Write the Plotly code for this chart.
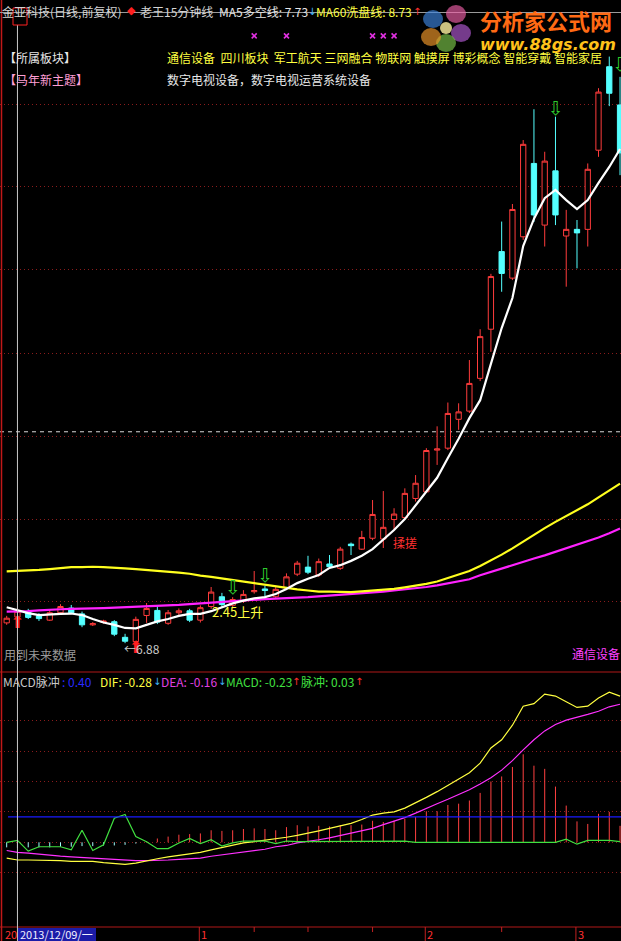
import plotly.graph_objects as go

# ---------------- data ----------------
idx = list(range(58))
opens = [7.40, 7.55, 7.69, 7.58, 7.47, 7.66, 7.78, 7.63, 7.35, 7.41,
         7.43, 7.03, 6.92, 7.59, 7.72, 7.39, 7.66, 7.71, 7.47, 7.82,
         8.07, 7.85, 7.96, 8.20, 8.27, 8.07, 8.29, 8.65, 8.83, 8.63,
         8.91, 8.80, 9.42, 9.29, 9.57, 9.55, 10.05, 10.10, 10.59, 10.76,
         11.83, 11.88, 12.62, 12.83, 13.67, 14.93, 16.92, 16.24, 17.30, 19.18,
         17.60, 18.99, 17.32, 17.49, 17.49, 19.52, 21.66, 20.68]
highs = [7.58, 7.78, 7.76, 7.65, 7.73, 7.88, 7.86, 7.69, 7.42, 7.48,
         7.47, 7.12, 7.56, 7.91, 7.83, 7.73, 7.77, 7.76, 7.85, 8.32,
         8.17, 8.06, 8.24, 8.73, 8.35, 8.35, 8.67, 8.99, 9.12, 9.05,
         9.14, 9.35, 9.46, 9.76, 10.55, 10.78, 10.34, 10.85, 11.19, 11.88,
         12.44, 13.05, 13.03, 14.14, 14.93, 16.35, 17.69, 18.14, 19.78, 20.57,
         19.48, 20.38, 17.99, 17.73, 19.18, 21.11, 21.92, 21.40]
lows = [7.35, 7.50, 7.50, 7.45, 7.45, 7.65, 7.63, 7.29, 7.32, 7.38,
        7.06, 6.88, 6.90, 7.40, 7.37, 7.35, 7.60, 7.42, 7.41, 7.76,
        7.81, 7.81, 7.91, 8.15, 8.07, 8.04, 8.24, 8.60, 8.65, 8.58,
        8.80, 8.76, 9.14, 9.27, 9.52, 9.32, 9.78, 10.06, 10.51, 10.73,
        11.45, 11.83, 12.35, 12.78, 13.60, 14.35, 15.89, 16.19, 17.22, 17.68,
        17.05, 17.60, 16.02, 16.49, 17.05, 19.35, 20.65, 18.88]
closes = [7.52, 7.70, 7.54, 7.51, 7.66, 7.82, 7.66, 7.35, 7.38, 7.45,
          7.11, 6.93, 7.49, 7.77, 7.42, 7.66, 7.71, 7.47, 7.79, 8.19,
          7.87, 8.00, 8.13, 8.23, 8.23, 8.26, 8.58, 8.93, 8.70, 8.97,
          8.84, 9.29, 9.38, 9.59, 10.18, 9.85, 10.19, 10.72, 10.98, 11.82,
          11.86, 12.77, 12.81, 13.54, 14.74, 16.28, 16.36, 18.00, 19.67, 17.86,
          19.24, 17.86, 17.49, 17.40, 19.03, 21.01, 20.98, 19.45]
ma5 = [7.80, 7.73, 7.65, 7.60, 7.62, 7.63, 7.64, 7.60, 7.50, 7.41,
       7.35, 7.27, 7.26, 7.36, 7.44, 7.50, 7.58, 7.63, 7.63, 7.70,
       7.81, 7.90, 7.97, 8.03, 8.06, 8.14, 8.27, 8.42, 8.53, 8.63,
       8.81, 8.88, 8.99, 9.12, 9.29, 9.53, 9.78, 10.06, 10.42, 10.78,
       11.12, 11.63, 12.12, 12.65, 13.11, 14.04, 14.96, 15.73, 17.06, 17.76,
       18.29, 18.50, 18.24, 18.01, 18.24, 18.68, 19.09, 19.55]
ma60 = [8.72, 8.73, 8.74, 8.76, 8.78, 8.81, 8.83, 8.83, 8.84, 8.83,
        8.82, 8.80, 8.78, 8.76, 8.74, 8.72, 8.69, 8.66, 8.61, 8.58,
        8.54, 8.49, 8.45, 8.41, 8.37, 8.33, 8.29, 8.26, 8.23, 8.20,
        8.20, 8.19, 8.19, 8.21, 8.23, 8.25, 8.27, 8.31, 8.35, 8.40,
        8.46, 8.55, 8.64, 8.73, 8.86, 9.00, 9.15, 9.31, 9.49, 9.65,
        9.83, 9.99, 10.14, 10.29, 10.44, 10.62, 10.79, 10.97]
ma_long = [7.69, 7.69, 7.70, 7.72, 7.74, 7.75, 7.76, 7.76, 7.77, 7.78,
           7.79, 7.81, 7.82, 7.83, 7.83, 7.84, 7.86, 7.88, 7.90, 7.92,
           7.94, 7.96, 7.98, 7.99, 8.01, 8.02, 8.04, 8.05, 8.06, 8.08,
           8.09, 8.12, 8.13, 8.15, 8.18, 8.20, 8.23, 8.26, 8.28, 8.32,
           8.36, 8.41, 8.46, 8.52, 8.62, 8.71, 8.80, 8.88, 8.96, 9.05,
           9.13, 9.22, 9.30, 9.40, 9.49, 9.59, 9.70, 9.82]

dif = [-0.25, -0.28, -0.28, -0.28, -0.29, -0.29, -0.30, -0.30, -0.30, -0.32,
       -0.33, -0.35, -0.33, -0.29, -0.26, -0.23, -0.21, -0.19, -0.16, -0.12,
       -0.08, -0.04, -0.01, 0.01, 0.03, 0.05, 0.08, 0.11, 0.14, 0.18,
       0.22, 0.26, 0.30, 0.36, 0.43, 0.46, 0.48, 0.54, 0.62, 0.71,
       0.80, 0.90, 0.99, 1.10, 1.25, 1.49, 1.62, 1.85, 2.15, 2.19,
       2.34, 2.31, 2.22, 2.13, 2.15, 2.28, 2.37, 2.31]
dea = [-0.13, -0.16, -0.17, -0.19, -0.20, -0.22, -0.23, -0.24, -0.26, -0.27,
       -0.28, -0.29, -0.29, -0.29, -0.29, -0.28, -0.27, -0.26, -0.25, -0.22,
       -0.20, -0.18, -0.15, -0.13, -0.11, -0.07, -0.05, -0.01, 0.01, 0.04,
       0.07, 0.11, 0.15, 0.18, 0.22, 0.28, 0.33, 0.39, 0.46, 0.54,
       0.61, 0.68, 0.75, 0.83, 0.92, 1.02, 1.14, 1.29, 1.46, 1.62,
       1.76, 1.86, 1.93, 1.97, 2.02, 2.07, 2.14, 2.18]
macd_bar = [-0.08, -0.09, -0.08, -0.08, -0.08, -0.07, -0.07, -0.06, -0.06, -0.05,
            -0.05, -0.04, -0.02, 0.02, 0.06, 0.09, 0.12, 0.13, 0.14, 0.19,
            0.18, 0.19, 0.21, 0.22, 0.21, 0.19, 0.24, 0.27, 0.25, 0.26,
            0.25, 0.27, 0.27, 0.28, 0.34, 0.32, 0.34, 0.37, 0.40, 0.49,
            0.49, 0.59, 0.61, 0.66, 0.78, 0.96, 1.04, 1.19, 1.39, 1.21,
            1.16, 0.88, 0.58, 0.33, 0.29, 0.45, 0.48, 0.26]
pulse = [0.00, 0.03, -0.14, -0.07, -0.07, -0.07, -0.12, 0.19, -0.13, -0.04,
         0.38, 0.44, 0.09, 0.01, -0.10, -0.10, -0.01, 0.06, -0.02, 0.04,
         -0.06, -0.01, 0.02, 0.02, 0.02, -0.02, 0.02, 0.01, 0.01, 0.01,
         0.01, 0.01, 0.01, 0.01, 0.01, 0.01, 0.02, 0.02, 0.00, 0.00,
         0.00, 0.00, 0.00, 0.00, 0.00, 0.00, 0.00, 0.00, 0.00, 0.00,
         0.00, 0.00, 0.05, -0.03, 0.03, 0.03, 0.03, 0.01]
pulse_level = 0.40
ref_price = 12.30

buy_idx = [1, 12]
buy_price = [7.37, 6.74]
sell_idx = [21, 24, 51, 57]
sell_price = [8.27, 8.56, 20.55, 21.66]
cross_idx = [23, 26, 34, 35, 36]
cross_price = [22.45] * len(cross_idx)
low_idx, low_value = 11, 6.88
rise_idx, rise_price, rise_label = 19, 7.70, "2.45上升"
rub_idx, rub_price, rub_label = 37, 9.45, "揉搓"

price_grid = [7.94, 10.06, 12.17, 14.31, 16.45, 18.58, 20.70]
macd_grid = [-0.48, 0.0, 0.48, 0.96, 1.44, 1.92]
month_idx = [18, 39, 53]
month_labels = ["1", "2", "3"]
minor_idx = [23, 28, 34, 46]

# ---------------- layout helpers ----------------
W, H = 621, 941
RED = "#ff3c3c"
CYAN = "#54ffff"
CJK = "Noto Sans CJK SC, sans-serif"
XR = [-0.623, 57.09]
Y1R = [6.192, 23.371]
Y2R = [-1.338, 2.690]


def PX(px):
    return px / W


def PY(py):
    return 1 - py / H


fig = go.Figure()

# candles
fig.add_trace(go.Candlestick(
    x=idx, open=opens, high=highs, low=lows, close=closes,
    increasing=dict(line=dict(color=RED, width=1), fillcolor="#000000"),
    decreasing=dict(line=dict(color=CYAN, width=1), fillcolor=CYAN),
    whiskerwidth=0, hoverinfo="skip", xaxis="x", yaxis="y"))

fig.add_trace(go.Scatter(x=idx, y=ma_long, mode="lines",
                         line=dict(color="#ff22ff", width=2.2), yaxis="y"))
fig.add_trace(go.Scatter(x=idx, y=ma60, mode="lines",
                         line=dict(color="#ffff1e", width=2.2), yaxis="y"))
fig.add_trace(go.Scatter(x=idx, y=ma5, mode="lines",
                         line=dict(color="#ffffff", width=2.2), yaxis="y"))

# signal markers
fig.add_trace(go.Scatter(x=sell_idx, y=sell_price, mode="text",
                         text=["⇩"] * len(sell_idx), textposition="middle center",
                         textfont=dict(color="#2ecc2e", size=19, family="DejaVu Sans"),
                         yaxis="y"))
fig.add_trace(go.Scatter(x=buy_idx, y=buy_price, mode="text",
                         text=["⬆"] * len(buy_idx), textposition="middle center",
                         textfont=dict(color="#ff1e1e", size=17, family="DejaVu Sans"),
                         yaxis="y"))
fig.add_trace(go.Scatter(x=cross_idx, y=cross_price, mode="markers",
                         marker=dict(symbol="x-thin", size=5,
                                     line=dict(color="#e030e0", width=1.6)),
                         yaxis="y"))

# MACD pane
bxp, byp, bxn, byn = [], [], [], []
for i, v in zip(idx, macd_bar):
    if v >= 0:
        bxp += [i, i, None]
        byp += [0, v, None]
    else:
        bxn += [i, i, None]
        byn += [0, v, None]
fig.add_trace(go.Scatter(x=bxp, y=byp, mode="lines",
                         line=dict(color="#ff4040", width=1), yaxis="y2"))
fig.add_trace(go.Scatter(x=bxn, y=byn, mode="lines",
                         line=dict(color="#a0ffff", width=1), yaxis="y2"))
fig.add_trace(go.Scatter(x=idx, y=dea, mode="lines",
                         line=dict(color="#ff30ff", width=1.2), yaxis="y2"))
fig.add_trace(go.Scatter(x=idx, y=dif, mode="lines",
                         line=dict(color="#ffff40", width=1.2), yaxis="y2"))
fig.add_trace(go.Scatter(x=idx, y=pulse, mode="lines",
                         line=dict(color="#40e040", width=1.2), yaxis="y2"))

# ---------------- shapes ----------------
shapes = []
shapes.append(dict(type="line", xref="paper", yref="y", x0=0, x1=1,
                   y0=ref_price, y1=ref_price, layer="below",
                   line=dict(color="#d8d8d8", width=1, dash="4px,4px")))
shapes.append(dict(type="line", xref="paper", yref="y2", x0=PX(8), x1=1,
                   y0=pulse_level, y1=pulse_level,
                   line=dict(color="#1a1aff", width=1.2)))
# pane separators / borders
shapes.append(dict(type="line", xref="paper", yref="paper", x0=0, x1=1,
                   y0=PY(672), y1=PY(672), line=dict(color="#b01818", width=1.2)))
shapes.append(dict(type="line", xref="paper", yref="paper", x0=0, x1=1,
                   y0=PY(927), y1=PY(927), line=dict(color="#b01818", width=1.2)))
shapes.append(dict(type="line", xref="paper", yref="paper", x0=PX(1.5), x1=PX(1.5),
                   y0=0, y1=1, line=dict(color="#c01818", width=1.5)))
shapes.append(dict(type="line", xref="paper", yref="paper", x0=0, x1=1,
                   y0=PY(12.5), y1=PY(12.5), line=dict(color="#9a9a9a", width=1)))
# cursor
shapes.append(dict(type="line", xref="x", yref="paper", x0=1, x1=1,
                   y0=0, y1=PY(25), line=dict(color="#c8c8c8", width=1)))
shapes.append(dict(type="rect", xref="paper", yref="paper", x0=PX(13), x1=PX(27),
                   y0=PY(25), y1=PY(8), line=dict(color="#ff2020", width=1)))
# bottom axis ticks
for m in month_idx:
    shapes.append(dict(type="line", xref="x", yref="paper", x0=m - 0.1, x1=m - 0.1,
                       y0=0, y1=PY(927), line=dict(color="#c02020", width=1)))
for m in minor_idx:
    shapes.append(dict(type="line", xref="x", yref="paper", x0=m, x1=m,
                       y0=PY(932), y1=PY(927), line=dict(color="#c02020", width=1)))
# date box
shapes.append(dict(type="rect", xref="paper", yref="paper", x0=PX(18), x1=PX(96),
                   y0=0, y1=PY(928), fillcolor="#1c1ca8", line=dict(width=0)))
# watermark flower
petals = [((433, 19), "#3d86e0"), ((456, 14), "#ee5fa8"), ((461, 33), "#b45ad6"),
          ((446, 43), "#7cc84a"), ((431, 37), "#f59a2a")]
for (cx, cy), col in petals:
    shapes.append(dict(type="circle", xref="paper", yref="paper",
                       x0=PX(cx - 10), x1=PX(cx + 10), y0=PY(cy + 9), y1=PY(cy - 9),
                       fillcolor=col, opacity=0.65, line=dict(width=0)))
shapes.append(dict(type="circle", xref="paper", yref="paper",
                   x0=PX(440), x1=PX(452), y0=PY(34), y1=PY(22),
                   fillcolor="#fff2a0", opacity=0.8, line=dict(width=0)))

# ---------------- annotations ----------------
ann = []


def T(px, py, text, color, size=12, anchor="left", family=CJK, **kw):
    f = dict(color=color, size=size, family=family)
    f.update(kw.pop("font_extra", {}))
    ann.append(dict(x=PX(px), y=PY(py), xref="paper", yref="paper", text=text,
                    showarrow=False, xanchor=anchor, yanchor="middle",
                    font=f, borderpad=0, **kw))


# header
T(1, 11.5, "金亚科技(日线,前复权)", "#d4d4d4")
T(126, 10, "◆", "#ff2020", size=11, family="DejaVu Sans")
T(139, 11.5, "老王15分钟线", "#d4d4d4")
T(218, 11.5, "MA5多空线: 7.73", "#e6e6e6")
T(307, 11.5, "↓", "#40b8ff", size=10, family="DejaVu Sans")
T(315, 11.5, "MA60洗盘线: 8.73", "#ffff40")
T(412, 11.5, "↑", "#ff3030", size=10, family="DejaVu Sans")
# watermark text
T(479, 20, "分析家公式网", "#ff6a14", size=22, font_extra=dict(weight="bold"))
T(479, 44, "www.88gs.com", "#ffc21a", size=16, family="DejaVu Sans",
  font_extra=dict(weight="bold", style="italic"))
# info rows
T(3, 57, "【所属板块】", "#e8e8e8")
T(166, 57, "通信设备  四川板块  军工航天 三网融合 物联网 触摸屏 博彩概念 智能穿戴 智能家居",
  "#ffff40")
T(3, 79, "【马年新主题】", "#ff9fd6")
T(166, 79, "数字电视设备，数字电视运营系统设备", "#e8e8e8")
# lower main pane labels
T(3, 654, "用到未来数据", "#9a9a9a")
T(621, 653, "通信设备", "#ff40ff", anchor="right")
# MACD header
T(2, 681, "MACD脉冲", "#c8c8c8")
T(61, 681, ": 0.40", "#2a2aff")
T(99, 681, "DIF: -0.28", "#ffff40")
T(152, 681, "↓", "#40b8ff", size=10, family="DejaVu Sans")
T(160, 681, "DEA: -0.16", "#e040e0")
T(217, 681, "↓", "#40b8ff", size=10, family="DejaVu Sans")
T(225, 681, "MACD: -0.23", "#40e040")
T(291, 681, "↑", "#ff3030", size=10, family="DejaVu Sans")
T(300, 681, "脉冲: 0.03", "#40e040")
T(354, 681, "↑", "#ff3030", size=10, family="DejaVu Sans")
# bottom axis
T(4, 934, "20", "#ff3030", size=11)
T(19, 934, "2013/12/09/一", "#f0f0ff", size=11)
for m, lab in zip(month_idx, month_labels):
    ann.append(dict(x=m, y=PY(934), xref="x", yref="paper", text=lab,
                    showarrow=False, xanchor="left", yanchor="middle", borderpad=0,
                    font=dict(color="#ff3030", size=11, family=CJK)))

# data-anchored labels
ann.append(dict(x=low_idx - 0.2, y=low_value - 0.13, xref="x", yref="y",
                text="←" + f"{low_value:.2f}", showarrow=False, xanchor="left",
                yanchor="middle", borderpad=0,
                font=dict(color="#c8c8c8", size=12, family=CJK)))
ann.append(dict(x=rise_idx, y=rise_price, xref="x", yref="y", text=rise_label,
                showarrow=False, xanchor="left", yanchor="middle", borderpad=0,
                font=dict(color="#ffff40", size=13, family=CJK)))
ann.append(dict(x=rub_idx, y=rub_price, xref="x", yref="y", text=rub_label,
                showarrow=False, xanchor="center", yanchor="middle", borderpad=0,
                font=dict(color="#ff3030", size=12, family=CJK)))

axis_common = dict(showline=False, zeroline=False, showticklabels=False,
                   ticks="", fixedrange=True)

fig.update_layout(
    width=W, height=H, margin=dict(l=0, r=0, t=0, b=0),
    paper_bgcolor="#000000", plot_bgcolor="#000000",
    showlegend=False, hovermode=False,
    xaxis=dict(range=XR, domain=[0, 1], showgrid=False,
               rangeslider=dict(visible=False), **axis_common),
    yaxis=dict(range=Y1R, domain=[PY(670), 1], tickmode="array", tickvals=price_grid,
               showgrid=True, gridcolor="#8a1c1c", gridwidth=1, griddash="1px,3px",
               **axis_common),
    yaxis2=dict(range=Y2R, domain=[PY(927), PY(672)], tickmode="array",
                tickvals=macd_grid, anchor="x",
                showgrid=True, gridcolor="#8a1c1c", gridwidth=1, griddash="1px,3px",
                **axis_common),
    shapes=shapes, annotations=ann,
)

fig.write_html("out.html", config={"displayModeBar": False, "staticPlot": True},
               post_script="document.body.style.margin='0px';"
                           "document.body.style.background='#000';")
